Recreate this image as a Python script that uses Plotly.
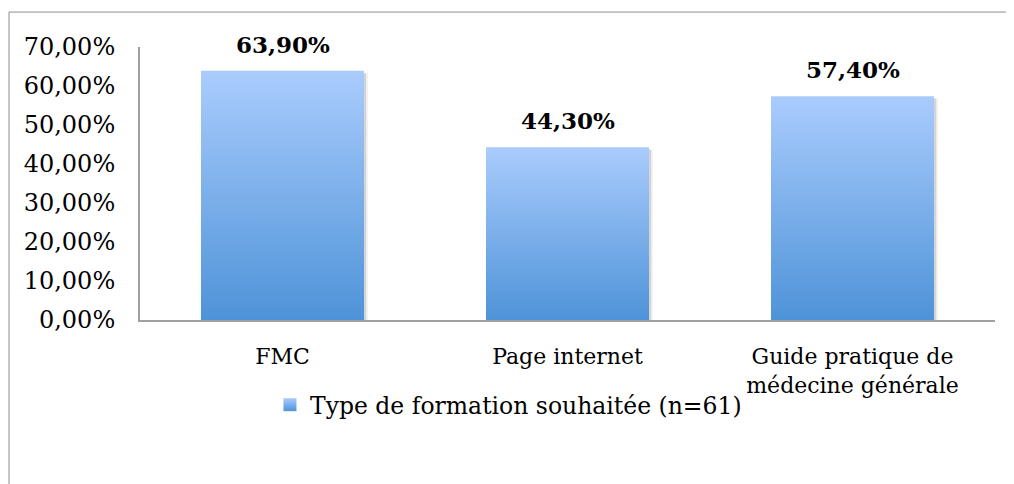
import plotly.graph_objects as go

categories = ["FMC", "Page internet", "Guide pratique de<br>médecine générale"]
values = [63.9, 44.3, 57.4]
series_name = "Type de formation souhaitée (n=61)"
y_ticks = [0, 10, 20, 30, 40, 50, 60, 70]


def pct(v):
    # format français : 63,90%
    return f"{v:.2f}%".replace(".", ",")


FONT = "DejaVu Serif"
LIGHT = "#AACCFD"
DARK = "#4E93D8"
AXIS = "#A0A0A0"
half = 0.286  # demi-largeur des barres (unités de catégorie)

fig = go.Figure()

# ombre légère à droite des barres
for i, v in enumerate(values):
    for w, a in [(0.013, 0.07), (0.007, 0.10)]:
        fig.add_trace(go.Scatter(
            x=[i + half, i + half + w, i + half + w, i + half, i + half],
            y=[0, 0, v - 0.6, v - 0.6, 0],
            mode="lines", fill="toself", line=dict(width=0),
            fillcolor=f"rgba(0,0,0,{a})",
            showlegend=False, hoverinfo="skip",
        ))

# barres en dégradé (polygones remplis)
for i, v in enumerate(values):
    fig.add_trace(go.Scatter(
        x=[i - half, i + half, i + half, i - half, i - half],
        y=[0, 0, v, v, 0],
        mode="lines",
        fill="toself",
        line=dict(width=0),
        fillgradient=dict(type="vertical", colorscale=[[0, DARK], [1, LIGHT]]),
        showlegend=False,
        hoverinfo="skip",
    ))

# étiquettes de données
for i, v in enumerate(values):
    fig.add_annotation(
        x=i, y=v, text=f"<b>{pct(v)}</b>",
        showarrow=False, yanchor="bottom", yshift=11,
        font=dict(family=FONT, size=23, color="black"),
    )

# entrée de légende
fig.add_trace(go.Scatter(
    x=[None], y=[None],
    mode="markers",
    name=series_name,
    marker=dict(symbol="square", size=13, color=LIGHT,
                gradient=dict(type="vertical", color=DARK)),
))

fig.update_layout(
    width=1006,
    height=476,
    paper_bgcolor="white",
    plot_bgcolor="white",
    font=dict(family=FONT, size=22, color="black"),
    margin=dict(l=132, r=19, t=39, b=164),
    showlegend=True,
    legend=dict(
        orientation="h",
        x=0.152, xanchor="left",
        y=-0.311, yanchor="middle",
        font=dict(family=FONT, size=23.5),
        itemwidth=30,
    ),
    shapes=[dict(
        type="rect", xref="paper", yref="paper",
        x0=-0.1532, x1=1.021, y0=-0.66, y1=1.128,
        line=dict(color="#8C8C8C", width=1),
    )],
)

fig.update_xaxes(
    range=[-0.5, 2.5],
    tickvals=list(range(len(categories))),
    ticktext=categories,
    showline=True, linecolor=AXIS, linewidth=2,
    showgrid=False, zeroline=False, ticks="",
    ticklabelstandoff=16,
)
fig.update_yaxes(
    range=[0, 70],
    tickvals=y_ticks,
    ticktext=[pct(t) for t in y_ticks],
    tickfont=dict(size=24),
    showline=True, linecolor=AXIS, linewidth=2,
    showgrid=False, zeroline=False, ticks="",
    ticklabelstandoff=18,
)

fig.write_html("out.html")
